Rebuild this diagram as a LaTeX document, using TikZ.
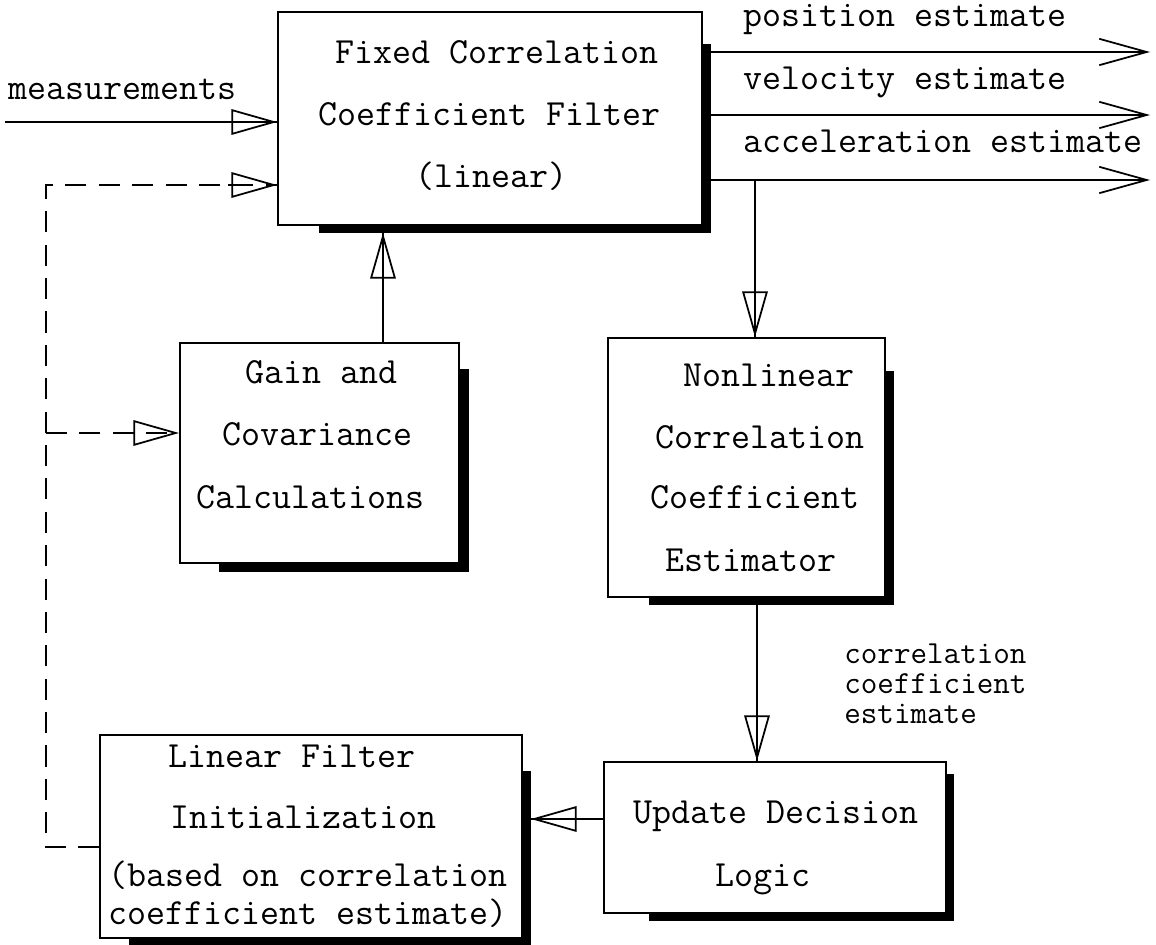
\documentclass[tikz,border=0pt]{standalone}
\usepackage{fontspec}
\usetikzlibrary{arrows.meta,fit,calc}
\newcommand\htip[2]{\draw[tipst] ($(#2)!28pt!(#1)$) -- (#2);}
\begin{document}
\begin{tikzpicture}[x=0.02cm,y=-0.02cm,
  box/.style={draw,line width=1.1pt,inner sep=0pt},
  shd/.style={fill=black},
  txt/.style={font=\ttfamily\fontsize{21}{23}\selectfont,anchor=base west,inner sep=0pt},
  stxt/.style={font=\ttfamily\fontsize{18.3}{20}\selectfont,anchor=base west,inner sep=0pt},
  ln/.style={line width=1pt},
  dsh/.style={line width=1pt,dash pattern=on 12pt off 7pt},
  tipst/.style={line width=1pt,-{Triangle[open,length=26pt,width=14.5pt]}},
  outarr/.style={line width=1pt,-{Straight Barb[length=27pt,width=15pt,line width=1pt]}}]
\useasboundingbox (0,0) rectangle (1156,945);

% boxes
\node[box,fit={(278,12) (702,225)}] (fixed) {};
\node[box,fit={(180,343) (459,563)}] (gain) {};
\node[box,fit={(608,338) (885,597)}] (nonlin) {};
\node[box,fit={(604,762) (946,913)}] (upd) {};
\node[box,fit={(100,735) (522,938)}] (lin) {};

% shadows
\fill[shd] ($(fixed.north east)+(0,33)$) rectangle ($(fixed.south east)+(8,7)$);
\fill[shd] ($(fixed.south west)+(42,0)$) rectangle ($(fixed.south east)+(8,7)$);
\fill[shd] ($(gain.north east)+(0,27)$) rectangle ($(gain.south east)+(9,8)$);
\fill[shd] ($(gain.south west)+(40,0)$) rectangle ($(gain.south east)+(9,8)$);
\fill[shd] ($(nonlin.north east)+(0,34)$) rectangle ($(nonlin.south east)+(8,7)$);
\fill[shd] ($(nonlin.south west)+(42,0)$) rectangle ($(nonlin.south east)+(8,7)$);
\fill[shd] ($(upd.north east)+(0,13)$) rectangle ($(upd.south east)+(7,7)$);
\fill[shd] ($(upd.south west)+(46,0)$) rectangle ($(upd.south east)+(7,7)$);
\fill[shd] ($(lin.north east)+(0,37)$) rectangle ($(lin.south east)+(8,6)$);
\fill[shd] ($(lin.south west)+(30,0)$) rectangle ($(lin.south east)+(8,6)$);

% texts
\node[txt] (f1) at (335,64) {Fixed Correlation};
\node[txt] (f2) at (318,126) {Coefficient Filter};
\node[txt] (f3) at (415,188) {(linear)};
\node[txt] (m1) at (8,100) {measurements};
\node[txt] (p1) at (743,27) {position estimate};
\node[txt] (v1) at (743,90) {velocity estimate};
\node[txt] (ac1) at (743,153) {acceleration estimate};
\node[txt] (g1t) at (245,384) {Gain and};
\node[txt] (g2t) at (222,446) {Covariance};
\node[txt] (g3t) at (196,509) {Calculations};
\node[txt] (n1t) at (683,387) {Nonlinear};
\node[txt] (n2t) at (655,449) {Correlation};
\node[txt] (n3t) at (650,509) {Coefficient};
\node[txt] (n4t) at (665,571) {Estimator};
\node[stxt] (l1) at (844,663) {correlation};
\node[stxt] (l2) at (844,693) {coefficient};
\node[stxt] (l3) at (844,723) {estimate};
\node[txt] (u1t) at (633,823) {Update Decision};
\node[txt] (u2t) at (715,886) {Logic};
\node[txt] (i1t) at (168,767) {Linear Filter};
\node[txt] (i2t) at (170,828) {Initialization};
\node[txt,align=left,font=\ttfamily\fontsize{21}{21.6}\selectfont] (i3t) at (108,924)
  {(based on correlation\\coefficient estimate)};

% coordinates
\coordinate (meas) at (5,122);
\coordinate (measE) at (fixed.west |- meas);
\coordinate (c1) at (46,185);
\coordinate (c1E) at (fixed.west |- c1);
\coordinate (c2) at (46,847);
\coordinate (c2E) at (lin.west |- c2);
\coordinate (c3) at (46,433);
\coordinate (c3E) at (gain.west |- c3);
\coordinate (gx) at (383,0);
\coordinate (gS) at (gx |- gain.north);
\coordinate (gE) at ($(gx |- fixed.south)+(0,7)$);
\coordinate (o1) at (1150,52);
\coordinate (o2) at (1150,115);
\coordinate (o3) at (1150,180);
\coordinate (a1) at (755,180);
\coordinate (a1E) at (a1 |- nonlin.north);
\coordinate (nx) at (757,0);
\coordinate (nS) at ($(nx |- nonlin.south)+(0,7)$);
\coordinate (nE) at (nx |- upd.north);
\coordinate (uy) at (0,819);
\coordinate (uS) at (upd.west |- uy);
\coordinate (uE) at ($(lin.east |- uy)+(8,0)$);

% connectors
\draw[ln] (meas) -- (measE); \htip{meas}{measE}
\draw[dsh] (c2E) -- (c2) -- (c1) -- (c1E); \htip{c1}{c1E}
\draw[dsh] (c3) -- (c3E); \htip{c3}{c3E}
\draw[ln] (gS) -- (gE); \htip{gS}{gE}
\draw[outarr] (o1 -| fixed.east) -- (o1);
\draw[outarr] (o2 -| fixed.east) -- (o2);
\draw[outarr] (o3 -| fixed.east) -- (o3);
\draw[ln] (a1) -- (a1E); \htip{a1}{a1E}
\draw[ln] (nS) -- (nE); \htip{nS}{nE}
\draw[ln] (uS) -- (uE); \htip{uS}{uE}
\end{tikzpicture}
\end{document}
